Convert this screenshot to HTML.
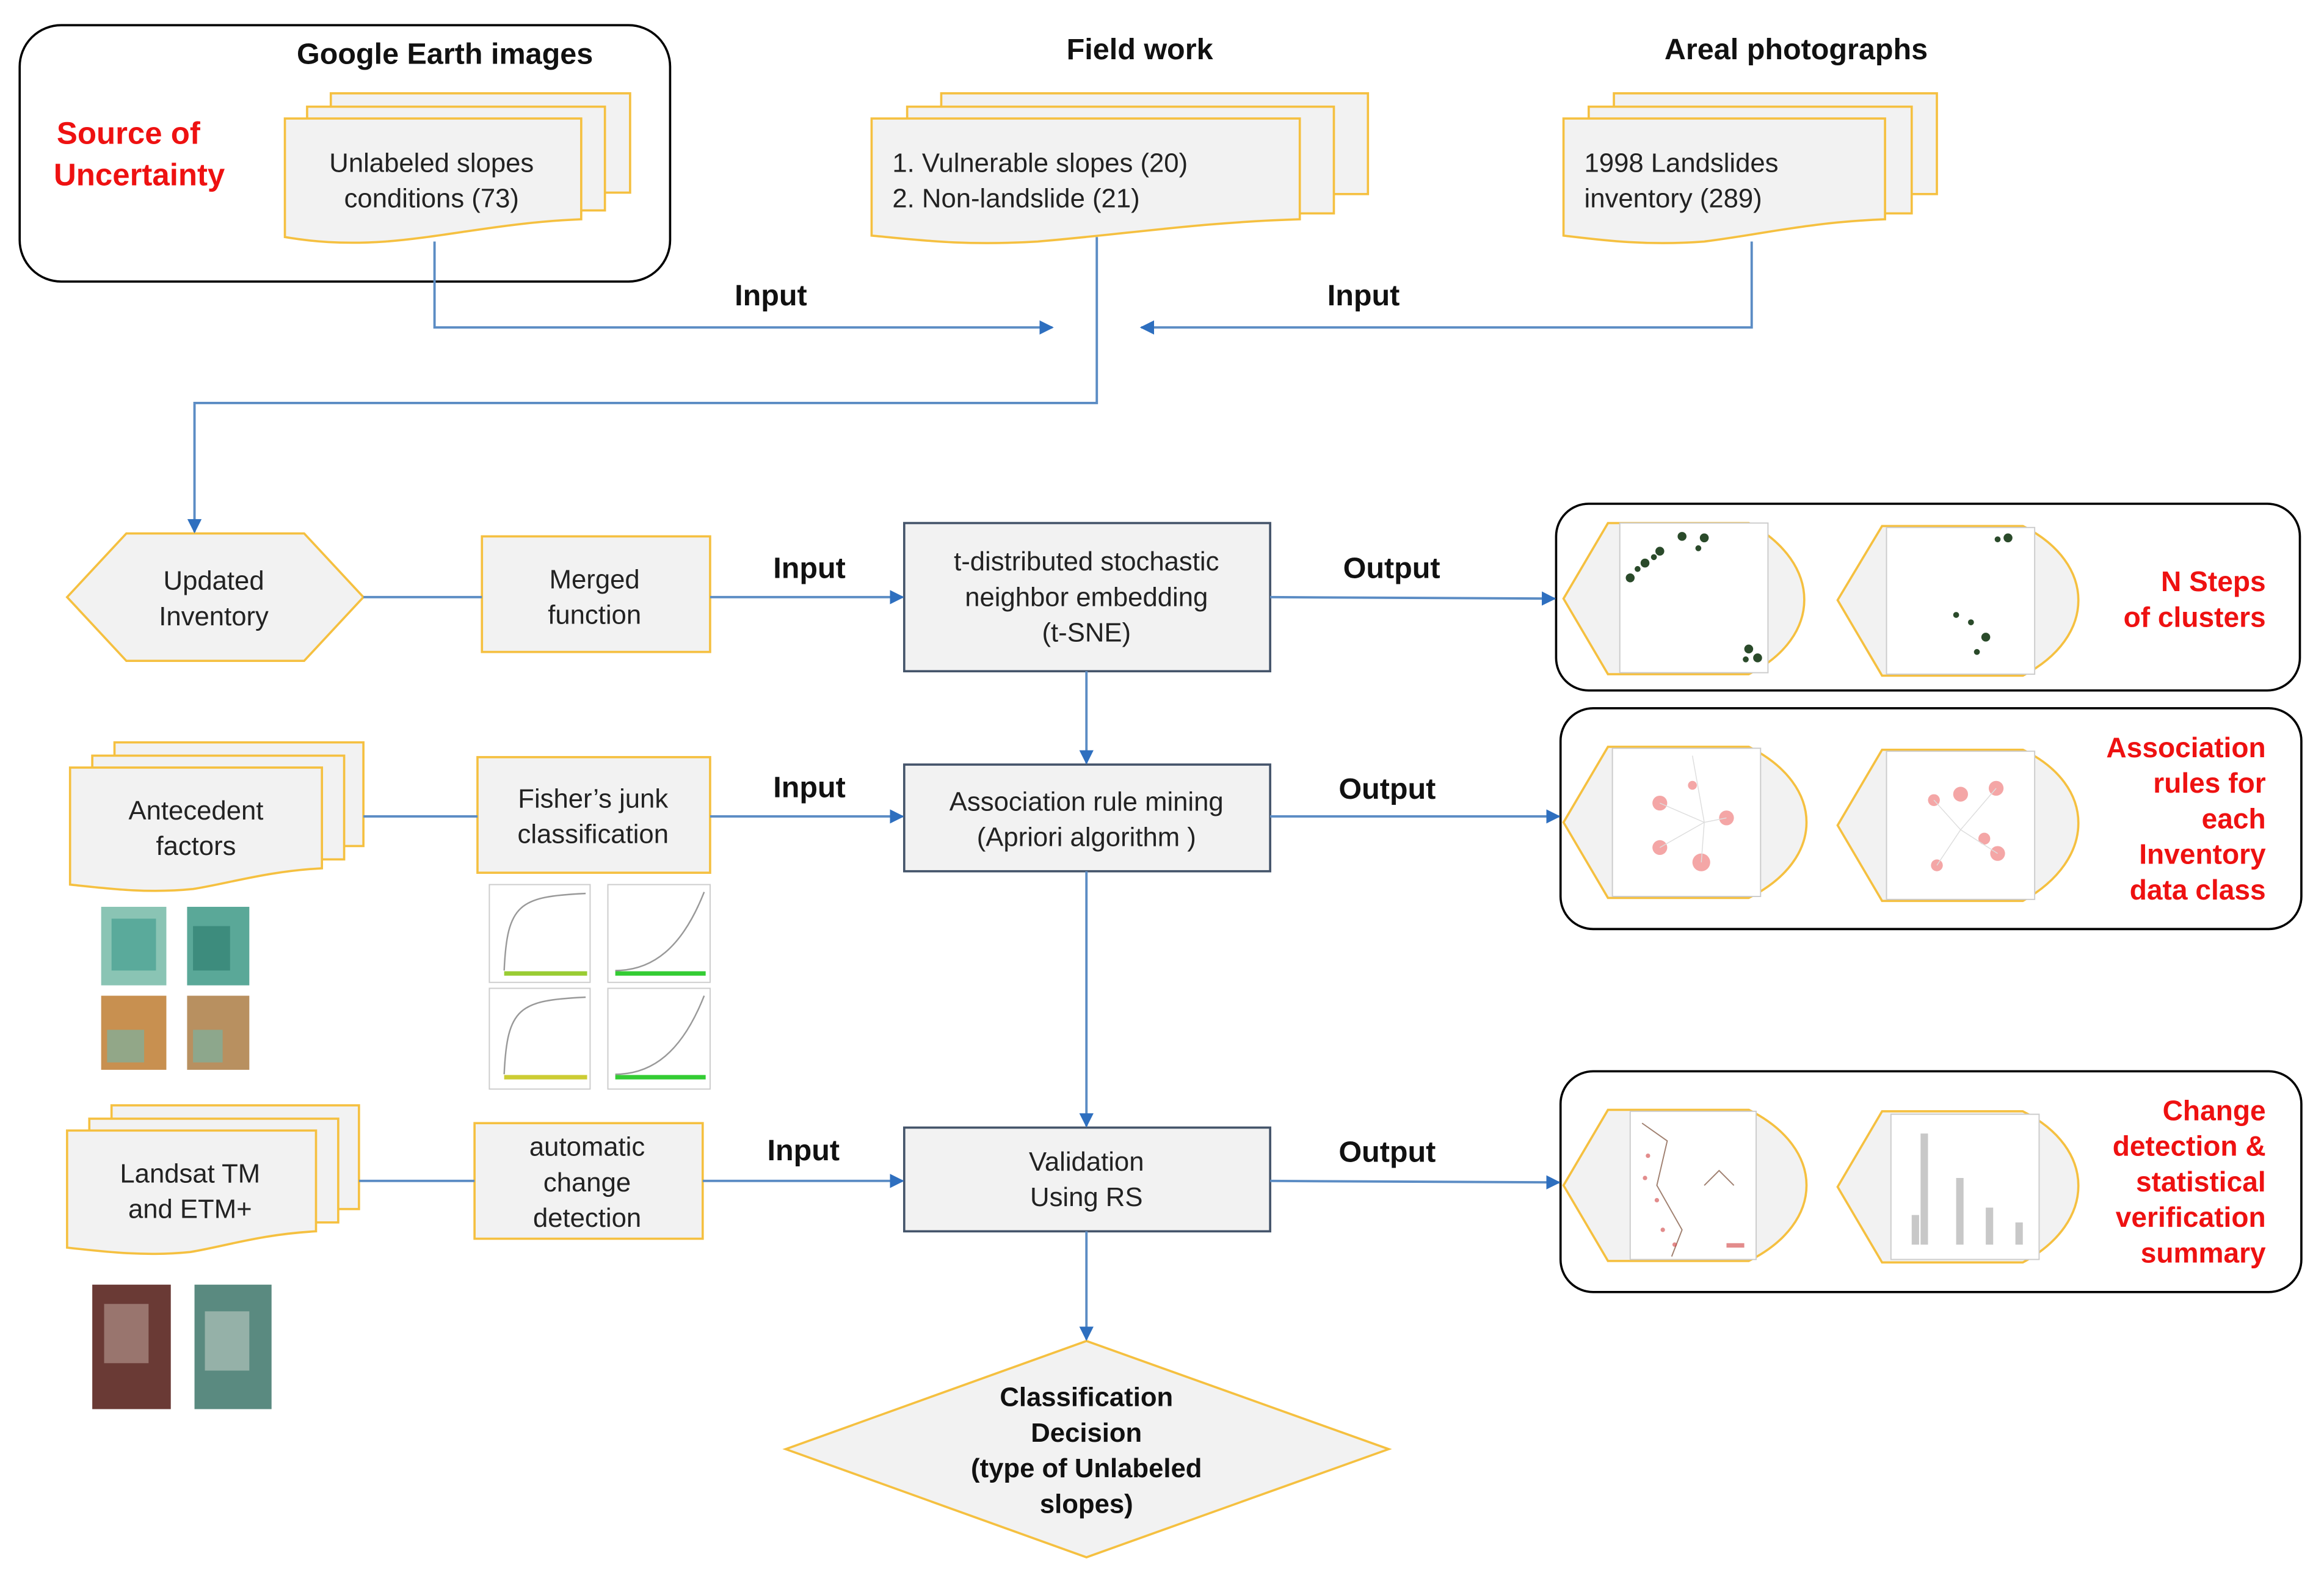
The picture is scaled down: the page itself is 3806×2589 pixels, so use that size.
<!DOCTYPE html>
<html><head><meta charset="utf-8"><style>html,body{margin:0;padding:0;background:#fff}svg{display:block}</style></head>
<body>
<svg width="3806" height="2589" viewBox="0 0 1568 1067" xmlns="http://www.w3.org/2000/svg" font-family="Liberation Sans, sans-serif">
<defs>
<marker id="a" viewBox="0 0 10 10" refX="9" refY="5" markerWidth="6" markerHeight="6" orient="auto"><path d="M0,0 L10,5 L0,10 z" fill="#2e6fbf"/></marker>
</defs>
<rect width="1568" height="1067" fill="#fff"/>
<g fill="none" stroke="#000" stroke-width="1.5">
<rect x="13" y="17" width="439" height="173" rx="28"/>
<rect x="1050" y="340" width="502" height="126" rx="22"/>
<rect x="1053" y="478" width="500" height="149" rx="22"/>
<rect x="1053" y="723" width="500" height="149" rx="22"/>
</g>
<g font-weight="bold" font-size="20" text-anchor="middle" fill="#111">
<text x="300" y="43">Google Earth images</text>
<text x="769" y="40">Field work</text>
<text x="1212" y="40">Areal photographs</text>
</g>
<g font-weight="bold" font-size="21" fill="#ee1111">
<text x="38" y="97">Source of</text>
<text x="36" y="125">Uncertainty</text>
</g>
<g fill="#f2f2f2" stroke="#f5c040" stroke-width="1.5">
<path d="M223,63 h202 v67 h-202z"/><path d="M207,72 h201 v70 h-201z"/>
<path d="M192,80 h200 v68 C340,150 300,160 260,163 C230,165 210,163 192,160 z"/>
<path d="M635,63 h288 v68 h-288z"/><path d="M612,72 h288 v72 h-288z"/>
<path d="M588,80 h289 v68 C810,150 760,158 700,163 C650,166 620,162 588,159 z"/>
<path d="M1089,63 h218 v68 h-218z"/><path d="M1072,72 h218 v72 h-218z"/>
<path d="M1055,80 h217 v68 C1220,150 1190,158 1150,163 C1110,166 1080,162 1055,159 z"/>
<path d="M77,501 h168 v70 h-168z"/><path d="M62,510 h170 v70 h-170z"/>
<path d="M47,518 h170 v68 C180,588 155,596 130,600 C100,603 75,600 47,597 z"/>
<path d="M75,746 h167 v70 h-167z"/><path d="M60,755 h168 v70 h-168z"/>
<path d="M45,763 h168 v68 C176,833 152,841 128,845 C98,848 72,845 45,842 z"/>
<polygon points="45,403 85,360 205,360 245,403 205,446 85,446"/>
<rect x="325" y="362" width="154" height="78"/>
<rect x="322" y="511" width="157" height="78"/>
<rect x="320" y="758" width="154" height="78"/>
<polygon points="530,978 733,905 937,978 733,1051"/>
</g>
<g fill="#f2f2f2" stroke="#44546a" stroke-width="1.5">
<rect x="610" y="353" width="247" height="100"/>
<rect x="610" y="516" width="247" height="72"/>
<rect x="610" y="761" width="247" height="70"/>
</g>
<g fill="#f2f2f2" stroke="#f5c040" stroke-width="1.5">
<path d="M1085,353 H1180 C1230,380 1230,430 1180,455 H1085 L1055,404 z"/>
<path d="M1270,355 H1365 C1415,380 1415,430 1365,456 H1270 L1240,405 z"/>
<path d="M1085,504 H1180 C1232,530 1232,580 1180,606 H1085 L1055,555 z"/>
<path d="M1270,506 H1365 C1415,530 1415,580 1365,608 H1270 L1240,557 z"/>
<path d="M1085,749 H1180 C1232,775 1232,825 1180,851 H1085 L1055,800 z"/>
<path d="M1270,750 H1365 C1415,775 1415,825 1365,852 H1270 L1240,801 z"/>
</g>
<g fill="#fff" stroke="#ccc" stroke-width="0.8">
<rect x="1093" y="353" width="100" height="101"/>
<rect x="1273" y="356" width="100" height="99"/>
<rect x="1088" y="505" width="100" height="100"/>
<rect x="1273" y="507" width="100" height="100"/>
<rect x="1100" y="750" width="85" height="100"/>
<rect x="1276" y="752" width="100" height="98"/>
</g>
<g fill="#2a4a2a">
<circle cx="1100" cy="390" r="3"/><circle cx="1105" cy="384" r="2"/><circle cx="1110" cy="380" r="3"/><circle cx="1116" cy="376" r="2"/><circle cx="1120" cy="372" r="3"/><circle cx="1135" cy="362" r="3"/><circle cx="1150" cy="363" r="3"/><circle cx="1146" cy="370" r="2"/><circle cx="1180" cy="438" r="3"/><circle cx="1186" cy="444" r="3"/><circle cx="1178" cy="445" r="2"/>
<circle cx="1355" cy="363" r="3"/><circle cx="1348" cy="364" r="2"/><circle cx="1330" cy="420" r="2"/><circle cx="1340" cy="430" r="3"/><circle cx="1320" cy="415" r="2"/><circle cx="1334" cy="440" r="2"/>
</g>
<g fill="#f4a6a6">
<circle cx="1120" cy="542" r="5"/><circle cx="1165" cy="552" r="5"/><circle cx="1120" cy="572" r="5"/><circle cx="1148" cy="582" r="6"/><circle cx="1142" cy="530" r="3"/>
<circle cx="1305" cy="540" r="4"/><circle cx="1323" cy="536" r="5"/><circle cx="1347" cy="532" r="5"/><circle cx="1339" cy="566" r="4"/><circle cx="1348" cy="576" r="5"/><circle cx="1307" cy="584" r="4"/>
</g>
<g fill="none" stroke="#ddd" stroke-width="0.6"><path d="M1120,542 L1150,555 L1165,552 M1150,555 L1148,582 M1150,555 L1120,572 M1150,555 L1142,510"/><path d="M1305,540 L1323,560 L1347,532 M1323,560 L1307,584 M1323,560 L1348,576"/></g>
<g fill="#c8c8c8"><rect x="1290" y="820" width="5" height="20"/><rect x="1296" y="765" width="5" height="75"/><rect x="1320" y="795" width="5" height="45"/><rect x="1340" y="815" width="5" height="25"/><rect x="1360" y="825" width="5" height="15"/></g>
<g fill="none" stroke="#a08070" stroke-width="0.8"><path d="M1108,758 L1125,770 L1118,800 L1135,830 L1128,848"/><path d="M1150,800 L1160,790 L1170,800"/></g>
<g fill="#d04040" opacity="0.6"><circle cx="1112" cy="780" r="1.5"/><circle cx="1118" cy="810" r="1.5"/><circle cx="1122" cy="830" r="1.5"/><circle cx="1130" cy="840" r="1.5"/><circle cx="1110" cy="795" r="1.5"/><rect x="1165" y="839" width="12" height="3"/></g>
<g>
<rect x="68" y="612" width="44" height="53" fill="#8ac4b4"/><rect x="75" y="620" width="30" height="35" fill="#3a9a8a" opacity="0.6"/>
<rect x="126" y="612" width="42" height="53" fill="#5aa898"/><rect x="130" y="625" width="25" height="30" fill="#2a7a6a" opacity="0.6"/>
<rect x="68" y="672" width="44" height="50" fill="#c89050"/><rect x="72" y="695" width="25" height="22" fill="#7ab0a0" opacity="0.7"/>
<rect x="126" y="672" width="42" height="50" fill="#b89060"/><rect x="130" y="695" width="20" height="22" fill="#7ab0a0" opacity="0.7"/>
<rect x="62" y="867" width="53" height="84" fill="#6a3a35"/><rect x="70" y="880" width="30" height="40" fill="#c8b0a8" opacity="0.5"/>
<rect x="131" y="867" width="52" height="84" fill="#5a8a80"/><rect x="138" y="885" width="30" height="40" fill="#d0d8d0" opacity="0.5"/>
</g>
<g fill="#fff" stroke="#ccc" stroke-width="0.8">
<rect x="330" y="597" width="68" height="66"/><rect x="410" y="597" width="69" height="66"/>
<rect x="330" y="667" width="68" height="68"/><rect x="410" y="667" width="69" height="68"/>
</g>
<g fill="none" stroke="#999" stroke-width="1">
<path d="M340,655 C342,610 350,605 395,603"/><path d="M415,655 C440,655 460,640 475,602"/>
<path d="M340,725 C342,680 350,675 395,673"/><path d="M415,725 C440,725 460,710 475,672"/>
</g>
<g stroke-width="3"><line x1="340" y1="657" x2="396" y2="657" stroke="#9c3"/><line x1="415" y1="657" x2="476" y2="657" stroke="#3c3"/><line x1="340" y1="727" x2="396" y2="727" stroke="#cc3"/><line x1="415" y1="727" x2="476" y2="727" stroke="#3c3"/></g>
<g fill="none" stroke="#5b8cc4" stroke-width="1.6">
<polyline points="293,163 293,221 710,221" marker-end="url(#a)"/>
<polyline points="1182,163 1182,221 770,221" marker-end="url(#a)"/>
<polyline points="740,160 740,272 131,272 131,359" marker-end="url(#a)"/>
<line x1="245" y1="403" x2="325" y2="403"/>
<line x1="479" y1="403" x2="609" y2="403" marker-end="url(#a)"/>
<line x1="857" y1="403" x2="1049" y2="404" marker-end="url(#a)"/>
<line x1="733" y1="453" x2="733" y2="515" marker-end="url(#a)"/>
<line x1="245" y1="551" x2="322" y2="551"/>
<line x1="479" y1="551" x2="609" y2="551" marker-end="url(#a)"/>
<line x1="857" y1="551" x2="1052" y2="551" marker-end="url(#a)"/>
<line x1="733" y1="588" x2="733" y2="760" marker-end="url(#a)"/>
<line x1="242" y1="797" x2="320" y2="797"/>
<line x1="474" y1="797" x2="609" y2="797" marker-end="url(#a)"/>
<line x1="857" y1="797" x2="1052" y2="798" marker-end="url(#a)"/>
<line x1="733" y1="831" x2="733" y2="904" marker-end="url(#a)"/>
</g>
<g font-weight="bold" font-size="20" text-anchor="middle" fill="#111">
<text x="520" y="206">Input</text><text x="920" y="206">Input</text>
<text x="546" y="390">Input</text><text x="939" y="390">Output</text>
<text x="546" y="538">Input</text><text x="936" y="539">Output</text>
<text x="542" y="783">Input</text><text x="936" y="784">Output</text>
</g>
<g font-size="18" text-anchor="middle" fill="#222">
<text x="291" y="116">Unlabeled  slopes</text><text x="291" y="140">conditions (73)</text>
<text x="144" y="398">Updated</text><text x="144" y="422">Inventory</text>
<text x="401" y="397">Merged</text><text x="401" y="421">function</text>
<text x="733" y="385">t-distributed stochastic</text><text x="733" y="409">neighbor  embedding</text><text x="733" y="433">(t-SNE)</text>
<text x="132" y="553">Antecedent</text><text x="132" y="577">factors</text>
<text x="400" y="545">Fisher’s junk</text><text x="400" y="569">classification</text>
<text x="733" y="547">Association rule mining</text><text x="733" y="571">(Apriori  algorithm )</text>
<text x="128" y="798">Landsat TM</text><text x="128" y="822">and ETM+</text>
<text x="396" y="780">automatic</text><text x="396" y="804">change</text><text x="396" y="828">detection</text>
<text x="733" y="790">Validation</text><text x="733" y="814">Using RS</text>
</g>
<g font-size="18" fill="#222">
<text x="602" y="116">1.    Vulnerable  slopes (20)</text><text x="602" y="140">2.    Non-landslide  (21)</text>
<text x="1069" y="116">1998 Landslides</text><text x="1069" y="140">inventory  (289)</text>
</g>
<g font-weight="bold" font-size="18" text-anchor="middle" fill="#111">
<text x="733" y="949">Classification</text><text x="733" y="973">Decision</text><text x="733" y="997">(type of Unlabeled</text><text x="733" y="1021">slopes)</text>
</g>
<g font-weight="bold" font-size="19" text-anchor="end" fill="#ee1111">
<text x="1529" y="399">N  Steps</text><text x="1529" y="423">of clusters</text>
<text x="1529" y="511">Association</text><text x="1529" y="535">rules for</text><text x="1529" y="559">each</text><text x="1529" y="583">Inventory</text><text x="1529" y="607">data class</text>
<text x="1529" y="756">Change</text><text x="1529" y="780">detection &amp;</text><text x="1529" y="804">statistical</text><text x="1529" y="828">verification</text><text x="1529" y="852">summary</text>
</g>
</svg>
</body></html>
